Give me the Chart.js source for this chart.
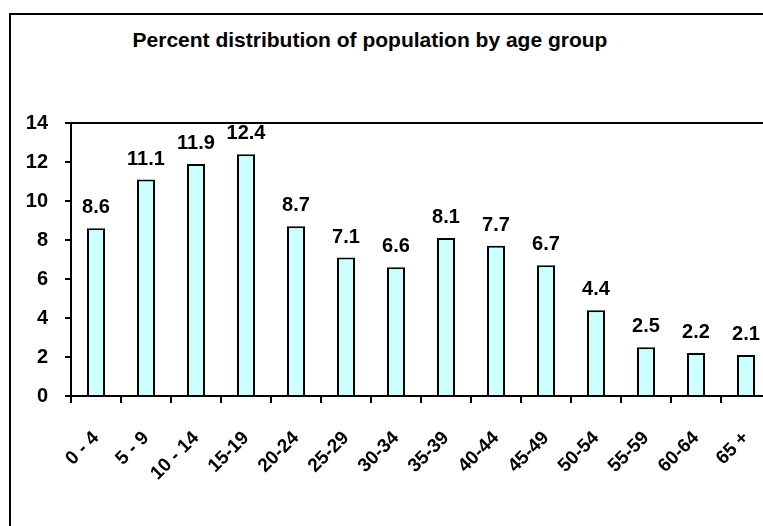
<!DOCTYPE html>
<html>
<head>
<meta charset="utf-8">
<script src="https://cdn.jsdelivr.net/npm/chart.js@4.4.0/dist/chart.umd.min.js"></script>
<style>
  html, body { margin: 0; padding: 0; background: #fff; overflow: hidden; width: 763px; height: 526px; }
  #frame { position: absolute; left: 9px; top: 13px; width: 820px; height: 600px; border: 2px solid #000; box-sizing: border-box; }
  #title { position: absolute; left: 0; top: 28px; width: 740px; text-align: center;
    font: bold 21px "Liberation Sans", Arial, sans-serif; color: #000; }
  #wrap { position: absolute; left: 0; top: 0; width: 780px; height: 526px; }
</style>
</head>
<body>
<div id="frame"></div>
<div id="title">Percent distribution of population by age group</div>
<div id="wrap"><canvas id="ageChart"></canvas></div>
<script>
const ageGroups = ['0 - 4', '5 - 9', '10 - 14', '15-19', '20-24', '25-29', '30-34',
  '35-39', '40-44', '45-49', '50-54', '55-59', '60-64', '65 +'];
const percentValues = [8.6, 11.1, 11.9, 12.4, 8.7, 7.1, 6.6, 8.1, 7.7, 6.7, 4.4, 2.5, 2.2, 2.1];
const yTicks = [0, 2, 4, 6, 8, 10, 12, 14];

const FONT = '"Liberation Sans", Arial, sans-serif';

// plot area frame (top + right line)
const plotFrame = {
  id: 'plotFrame',
  afterDraw(chart) {
    const { ctx, chartArea } = chart;
    ctx.save();
    ctx.strokeStyle = '#000';
    ctx.lineWidth = 2;
    ctx.strokeRect(chartArea.left, chartArea.top, chartArea.right - chartArea.left, chartArea.bottom - chartArea.top);
    ctx.restore();
  },
};

// value labels above bars
const valueLabels = {
  id: 'valueLabels',
  afterDatasetsDraw(chart) {
    const { ctx } = chart;
    const meta = chart.getDatasetMeta(0);
    ctx.save();
    ctx.font = 'bold 20px ' + FONT;
    ctx.fillStyle = '#000';
    ctx.textAlign = 'center';
    ctx.textBaseline = 'alphabetic';
    meta.data.forEach((bar, i) => {
      ctx.fillText(percentValues[i].toFixed(1), bar.x, bar.y - 15);
    });
    ctx.restore();
  },
};

new Chart(document.getElementById('ageChart').getContext('2d'), {
  type: 'bar',
  data: {
    labels: ageGroups,
    datasets: [
      {
        data: percentValues,
        backgroundColor: '#CCFFFF',
        borderColor: '#000',
        borderWidth: 2,
        barPercentage: 0.36,
        categoryPercentage: 1,
      },
    ],
  },
  options: {
    responsive: true,
    maintainAspectRatio: false,
    animation: false,
    layout: { padding: { top: 123, right: 9, left: 0, bottom: 0 } },
    plugins: {
      legend: { display: false },
      tooltip: { enabled: false },
      title: { display: false },
    },
    scales: {
      x: {
        grid: { display: true, offset: true, drawOnChartArea: false, drawTicks: true, tickLength: 7, color: '#000', lineWidth: 2 },
        border: { display: true, color: '#000', width: 2 },
        ticks: {
          color: '#000',
          font: { family: FONT, size: 19, weight: 'bold' },
          minRotation: 45,
          maxRotation: 45,
          autoSkip: false,
          padding: 24,
        },
        afterFit(scale) {
          scale.height = 130;
          scale.paddingLeft = 0;
          scale.paddingRight = 0;
        },
      },
      y: {
        min: 0,
        max: 14,
        afterBuildTicks(scale) {
          scale.ticks = yTicks.map((v) => ({ value: v }));
        },
        grid: { display: true, drawOnChartArea: false, drawTicks: true, tickLength: 6, color: '#000', lineWidth: 2 },
        border: { display: true, color: '#000', width: 2 },
        ticks: {
          color: '#000',
          font: { family: FONT, size: 20, weight: 'bold' },
          padding: 17,
        },
        afterFit(scale) {
          scale.width = 71;
        },
      },
    },
  },
  plugins: [plotFrame, valueLabels],
});
</script>
</body>
</html>
